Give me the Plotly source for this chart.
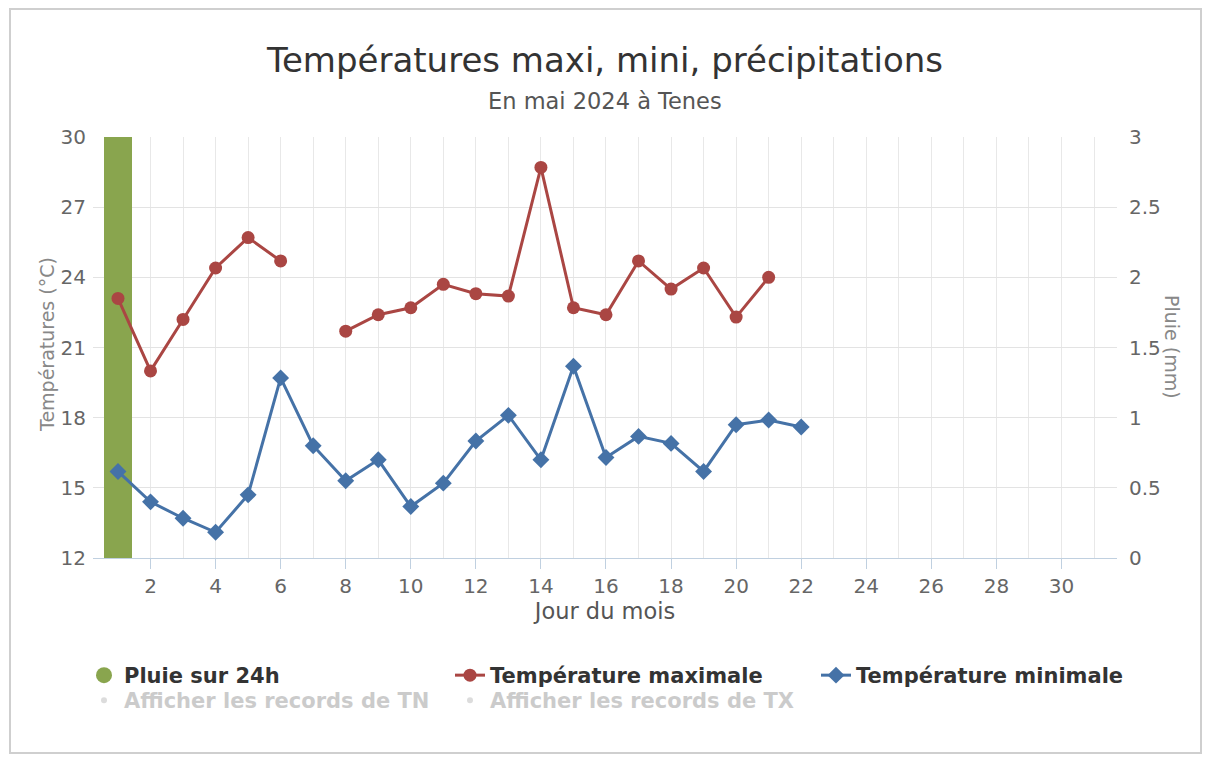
import plotly.graph_objects as go

# ---- data ----
days = list(range(1, 23))
tmax = [23.1, 20.0, 22.2, 24.4, 25.7, 24.7, None, 21.7, 22.4, 22.7, 23.7,
        23.3, 23.2, 28.7, 22.7, 22.4, 24.7, 23.5, 24.4, 22.3, 24.0, None]
tmin = [15.7, 14.4, 13.7, 13.1, 14.7, 19.7, 16.8, 15.3, 16.2, 14.2, 15.2,
        17.0, 18.1, 16.2, 20.2, 16.3, 17.2, 16.9, 15.7, 17.7, 17.9, 17.6]
rain = [3.0] + [0.0] * 21
x_ticks = list(range(2, 31, 2))
temp_ticks = [12, 15, 18, 21, 24, 27, 30]
rain_ticks = [0, 0.5, 1, 1.5, 2, 2.5, 3]

title = "Températures maxi, mini, précipitations"
subtitle = "En mai 2024 à Tenes"

GREEN = "#89A54E"
RED = "#AA4643"
BLUE = "#4572A7"
FONT = "DejaVu Sans"

OFF = 8                      # page body margin
W, H = 1195, 748
L, R, T, B = 85, 86, 129, 198
PW, PH = W - L - R, H - T - B


def px_x(px):                # screenshot pixel -> paper fraction
    return (px - OFF - L) / PW


def px_y(py):
    return (H - B - (py - OFF)) / PH


fig = go.Figure()

# legend proxy for rain (circle symbol)
fig.add_trace(go.Scatter(
    x=[None], y=[None], mode="markers", name="<b>Pluie sur 24h</b>",
    marker=dict(color=GREEN, size=19, symbol="circle"),
    legendgroup="rain", yaxis="y", legend="legend"))

fig.add_trace(go.Bar(
    x=days, y=rain, name="Pluie sur 24h", marker=dict(color=GREEN, line=dict(width=0)),
    width=0.89, yaxis="y", showlegend=False, legendgroup="rain"))

fig.add_trace(go.Scatter(
    x=days, y=tmax, mode="lines+markers", name="<b>Température maximale</b>",
    line=dict(color=RED, width=3), yaxis="y2", legend="legend",
    marker=dict(color=RED, size=13, symbol="circle")))

fig.add_trace(go.Scatter(
    x=days, y=tmin, mode="lines+markers", name="<b>Température minimale</b>",
    line=dict(color=BLUE, width=3), yaxis="y2", legend="legend",
    marker=dict(color=BLUE, size=13, symbol="diamond")))

fig.add_trace(go.Scatter(
    x=days, y=tmin, mode="markers", yaxis="y2", legend="legend2",
    name="<span style='color:#999'><b>Afficher les records de TN</b></span>",
    marker=dict(color="#bbb", size=6), visible="legendonly"))

fig.add_trace(go.Scatter(
    x=days, y=tmax, mode="markers", yaxis="y2", legend="legend2",
    name="<span style='color:#999'><b>Afficher les records de TX</b></span>",
    marker=dict(color="#bbb", size=6), visible="legendonly"))

legend_common = dict(orientation="h", xanchor="left", yanchor="top",
                     entrywidth=321, entrywidthmode="pixels",
                     font=dict(size=21, color="#333", family=FONT),
                     traceorder="normal", itemclick=False, itemdoubleclick=False,
                     bgcolor="rgba(0,0,0,0)")

fig.update_layout(
    width=W, height=H,
    margin=dict(l=L, r=R, t=T, b=B),
    paper_bgcolor="white", plot_bgcolor="white",
    font=dict(family=FONT, color="#666"),
    title=dict(text=title, x=0.5, xref="paper", xanchor="center",
               y=1 - (60 - OFF) / H, yanchor="middle",
               font=dict(size=34, color="#333", family=FONT)),
    showlegend=True,
    legend=dict(x=px_x(84), y=px_y(655), **legend_common),
    legend2=dict(x=px_x(84), y=px_y(680), **legend_common),
    bargap=0,
    xaxis=dict(range=[0.232, 31.707], tickvals=x_ticks, showgrid=True,
               gridcolor="#e8e8e8", zeroline=False,
               showline=True, linecolor="#C0D0E0", linewidth=1,
               ticks="outside", ticklen=10, tickcolor="#C0D0E0",
               tickfont=dict(size=20, color="#666"),
               minor=dict(dtick=1, tick0=1, showgrid=True, gridcolor="#e8e8e8", ticks=""),
               title=dict(text="Jour du mois", font=dict(size=22.5, color="#555"), standoff=6)),
    yaxis=dict(range=[0, 3], tickvals=rain_ticks, side="right",
               showgrid=True, gridcolor="#e3e3e3", zeroline=False, showline=False,
               ticks="", ticklabelstandoff=11, tickfont=dict(size=20, color="#666")),
    yaxis2=dict(range=[12, 30], tickvals=temp_ticks, overlaying="y", side="left",
                showgrid=False, zeroline=False, showline=False, ticks="",
                ticklabelstandoff=6, tickfont=dict(size=20, color="#666")),
    annotations=[
        dict(text=subtitle, x=0.5, xref="paper", xanchor="center",
             y=px_y(101), yref="paper", yanchor="middle", showarrow=False,
             font=dict(size=22.5, color="#555", family=FONT)),
        dict(text="Températures (°C)", x=px_x(47), xref="paper", xanchor="center",
             y=px_y(345), yref="paper", yanchor="middle", showarrow=False, textangle=-90,
             font=dict(size=19, color="#888", family=FONT)),
        dict(text="Pluie (mm)", x=px_x(1172), xref="paper", xanchor="center",
             y=px_y(347), yref="paper", yanchor="middle", showarrow=False, textangle=90,
             font=dict(size=19, color="#888", family=FONT)),
    ],
    shapes=[
        dict(type="rect", xref="paper", yref="paper",
             x0=px_x(10), x1=px_x(1201), y0=px_y(753), y1=px_y(9),
             line=dict(color="#cfcfcf", width=2), fillcolor="rgba(0,0,0,0)", layer="below"),
    ],
)

fig.write_html("out.html")
